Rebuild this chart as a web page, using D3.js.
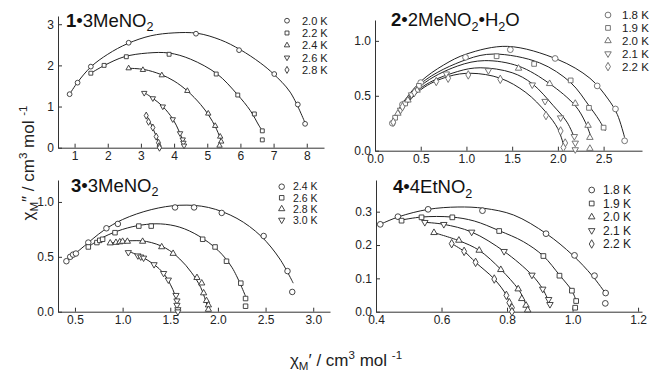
<!DOCTYPE html>
<html>
<head>
<meta charset="utf-8">
<script src="https://cdn.jsdelivr.net/npm/d3@7"></script>
<style>
	body { margin: 0; background: #fff; }
	svg { font-family: "Liberation Sans", Arial, Helvetica, sans-serif; }
</style>
</head>
<body>
<div id="chart"></div>
<script>
// ---- data ----

// panel 1 : 1·3MeNO2
const p1Temps = ['2.0 K', '2.2 K', '2.4 K', '2.6 K', '2.8 K']
const p1Points = [
	[[0.85, 1.30], [1.09, 1.58], [1.49, 1.97], [2.63, 2.55], [4.66, 2.77], [5.96, 2.37], [7.02, 1.79], [7.73, 1.05], [7.95, 0.58]],
	[[1.49, 1.81], [1.89, 2.00], [2.56, 2.21], [3.85, 2.27], [5.27, 1.79], [5.92, 1.28], [6.42, 0.82], [6.66, 0.41], [6.66, 0.19]],
	[[2.63, 1.93], [3.06, 1.89], [3.63, 1.76], [4.40, 1.38], [5.03, 0.83], [5.24, 0.53], [5.39, 0.27], [5.42, 0.15], [5.37, 0.05]],
	[[3.10, 1.33], [3.36, 1.20], [3.66, 1.00], [3.96, 0.69], [4.18, 0.35], [4.26, 0.20], [4.28, 0.12], [4.30, 0.05]],
	[[3.16, 0.78], [3.23, 0.63], [3.36, 0.49], [3.46, 0.27], [3.53, 0.12], [3.55, 0.04], [3.56, 0.00]]
]
const p1Fits = [
	[[0.85, 1.30], [1.1, 1.60], [1.5, 1.97], [2.0, 2.27], [2.6, 2.53], [3.3, 2.72], [4.0, 2.79], [4.7, 2.78], [5.4, 2.62], [6.0, 2.38], [6.6, 2.06], [7.0, 1.79], [7.5, 1.35], [7.95, 0.60]],
	[[1.49, 1.81], [1.9, 2.00], [2.5, 2.21], [3.2, 2.30], [3.85, 2.30], [4.5, 2.15], [5.3, 1.79], [5.9, 1.30], [6.3, 0.90], [6.55, 0.55], [6.65, 0.42]],
	[[2.63, 1.93], [3.1, 1.90], [3.6, 1.78], [4.0, 1.62], [4.4, 1.38], [4.8, 1.05], [5.05, 0.78], [5.25, 0.50], [5.38, 0.25], [5.42, 0.12]],
	[[3.10, 1.34], [3.36, 1.20], [3.66, 1.00], [3.96, 0.70], [4.15, 0.40], [4.25, 0.20], [4.30, 0.04]],
	[[3.16, 0.80], [3.30, 0.58], [3.45, 0.30], [3.53, 0.12], [3.56, 0.00]]
]

// panel 2 : 2·2MeNO2·H2O
const p2Temps = ['1.8 K', '1.9 K', '2.0 K', '2.1 K', '2.2 K']
const p2Points = [
	[[0.19, 0.25], [0.30, 0.42], [0.50, 0.62], [0.99, 0.85], [1.48, 0.92], [1.97, 0.84], [2.43, 0.59], [2.63, 0.38], [2.73, 0.09]],
	[[0.22, 0.30], [0.33, 0.43], [0.48, 0.59], [1.33, 0.86], [1.74, 0.79], [2.14, 0.64], [2.34, 0.39], [2.50, 0.21]],
	[[0.25, 0.34], [0.36, 0.46], [0.46, 0.55], [1.57, 0.75], [1.91, 0.61], [2.19, 0.43], [2.33, 0.23], [2.35, 0.12], [2.35, 0.02]],
	[[0.28, 0.37], [0.40, 0.51], [0.78, 0.70], [1.24, 0.73], [1.72, 0.60], [1.86, 0.45], [2.03, 0.30], [2.18, 0.13], [2.19, 0.07], [2.19, 0.01]],
	[[0.20, 0.26], [0.30, 0.40], [0.43, 0.53], [0.67, 0.63], [0.80, 0.66], [1.02, 0.69], [1.37, 0.65], [1.87, 0.32], [2.03, 0.18], [2.08, 0.07], [2.06, 0.03]]
]
const p2Fits = [
	[[0.17, 0.24], [0.3, 0.43], [0.5, 0.63], [0.75, 0.78], [1.0, 0.88], [1.45, 0.95], [2.0, 0.83], [2.35, 0.66], [2.55, 0.47], [2.65, 0.33], [2.73, 0.12]],
	[[0.17, 0.24], [0.5, 0.61], [1.0, 0.83], [1.3, 0.88], [1.8, 0.80], [2.14, 0.62], [2.34, 0.41], [2.45, 0.28], [2.52, 0.18]],
	[[0.17, 0.24], [0.5, 0.59], [0.9, 0.77], [1.2, 0.82], [1.57, 0.77], [1.91, 0.61], [2.19, 0.41], [2.3, 0.26], [2.36, 0.13]],
	[[0.17, 0.24], [0.5, 0.57], [0.9, 0.72], [1.15, 0.755], [1.5, 0.71], [1.72, 0.61], [1.95, 0.41], [2.1, 0.26], [2.18, 0.12]],
	[[0.17, 0.24], [0.5, 0.555], [0.8, 0.675], [1.05, 0.705], [1.37, 0.66], [1.65, 0.53], [1.87, 0.35], [2.0, 0.20], [2.07, 0.03]]
]

// panel 3 : 3·3MeNO2
const p3Temps = ['2.4 K', '2.6 K', '2.8 K', '3.0 K']
const p3Points = [
	[[0.41, 0.46], [0.45, 0.50], [0.48, 0.52], [0.51, 0.53], [0.64, 0.63], [0.83, 0.76], [0.95, 0.80], [1.55, 0.95], [1.75, 0.95], [2.04, 0.90], [2.48, 0.69], [2.73, 0.37], [2.78, 0.18]],
	[[0.64, 0.59], [0.73, 0.63], [0.76, 0.65], [0.79, 0.66], [0.92, 0.72], [1.17, 0.78], [1.30, 0.78], [1.84, 0.66], [1.97, 0.59], [2.09, 0.46], [2.24, 0.26], [2.29, 0.12], [2.29, 0.05]],
	[[0.87, 0.625], [0.93, 0.63], [0.97, 0.635], [1.00, 0.64], [1.05, 0.64], [1.21, 0.64], [1.41, 0.59], [1.53, 0.53], [1.78, 0.31], [1.83, 0.26], [1.85, 0.17], [1.88, 0.10], [1.90, 0.06], [1.90, 0.02]],
	[[1.06, 0.54], [1.16, 0.51], [1.19, 0.50], [1.22, 0.49], [1.33, 0.43], [1.43, 0.35], [1.48, 0.29], [1.56, 0.15], [1.57, 0.10], [1.57, 0.06], [1.58, 0.02], [1.58, 0.00]]
]
const p3Fits = [
	[[0.41, 0.46], [0.6, 0.60], [0.8, 0.74], [1.0, 0.84], [1.3, 0.93], [1.6, 0.97], [1.9, 0.95], [2.2, 0.85], [2.45, 0.69], [2.65, 0.48], [2.79, 0.26]],
	[[0.64, 0.59], [0.8, 0.68], [1.0, 0.75], [1.2, 0.79], [1.4, 0.80], [1.6, 0.77], [1.8, 0.69], [2.0, 0.56], [2.15, 0.40], [2.29, 0.14]],
	[[0.87, 0.625], [1.05, 0.645], [1.25, 0.64], [1.45, 0.58], [1.6, 0.48], [1.72, 0.36], [1.82, 0.22], [1.90, 0.02]],
	[[1.06, 0.55], [1.2, 0.50], [1.33, 0.43], [1.43, 0.35], [1.5, 0.25], [1.55, 0.15], [1.58, 0.00]]
]

// panel 4 : 4·4EtNO2
const p4Temps = ['1.8 K', '1.9 K', '2.0 K', '2.1 K', '2.2 K']
const p4Points = [
	[[0.413, 0.262], [0.467, 0.285], [0.559, 0.307], [0.725, 0.303], [0.919, 0.234], [1.006, 0.169], [1.067, 0.108], [1.101, 0.056], [1.100, 0.025]],
	[[0.478, 0.273], [0.539, 0.283], [0.633, 0.283], [0.776, 0.242], [0.911, 0.167], [0.960, 0.108], [0.998, 0.063], [1.011, 0.032], [1.008, 0.012]],
	[[0.577, 0.237], [0.653, 0.214], [0.715, 0.184], [0.781, 0.126], [0.834, 0.068], [0.845, 0.039], [0.858, 0.019], [0.863, 0.005]],
	[[0.549, 0.268], [0.607, 0.262], [0.692, 0.239], [0.791, 0.181], [0.876, 0.110], [0.909, 0.068], [0.927, 0.037], [0.931, 0.022]],
	[[0.631, 0.204], [0.669, 0.181], [0.704, 0.148], [0.761, 0.098], [0.798, 0.049], [0.807, 0.027], [0.815, 0.012], [0.815, 0.000]]
]
const p4Fits = [
	[[0.413, 0.262], [0.47, 0.285], [0.56, 0.307], [0.65, 0.314], [0.73, 0.310], [0.82, 0.290], [0.92, 0.234], [1.0, 0.170], [1.06, 0.108], [1.10, 0.056]],
	[[0.478, 0.275], [0.54, 0.284], [0.63, 0.284], [0.70, 0.272], [0.776, 0.243], [0.85, 0.210], [0.911, 0.167], [0.96, 0.110], [0.998, 0.063], [1.01, 0.035]],
	[[0.577, 0.237], [0.653, 0.213], [0.715, 0.184], [0.781, 0.127], [0.834, 0.068], [0.85, 0.040], [0.86, 0.012]],
	[[0.549, 0.268], [0.607, 0.262], [0.692, 0.239], [0.791, 0.181], [0.876, 0.110], [0.909, 0.068], [0.93, 0.025]],
	[[0.631, 0.204], [0.669, 0.181], [0.704, 0.148], [0.761, 0.098], [0.798, 0.049], [0.812, 0.010]]
]

// axis extents and tick labels
const p1XTicks = [1, 2, 3, 4, 5, 6, 7, 8], p1YTicks = [0, 1, 2, 3]
const p2XTicks = [0, 0.5, 1, 1.5, 2, 2.5], p2YTicks = [0, 0.5, 1]
const p3XTicks = [0.5, 1, 1.5, 2, 2.5, 3], p3YTicks = [0, 0.5, 1]
const p4XTicks = [0.4, 0.6, 0.8, 1.0, 1.2], p4YTicks = [0, 0.1, 0.2, 0.3]

// titles: [text, style]
const p1Title = [['1', 'b'], ['\u20223MeNO', ''], ['2', 'sub']]
const p2Title = [['2', 'b'], ['\u20222MeNO', ''], ['2', 'sub'], ['\u2022H', ''], ['2', 'sub'], ['O', '']]
const p3Title = [['3', 'b'], ['\u20223MeNO', ''], ['2', 'sub']]
const p4Title = [['4', 'b'], ['\u20224EtNO', ''], ['2', 'sub']]

const yTitle = [['\u03c7', ''], ['M', 'sub'], ['\u2033 / cm', ''], ['3', 'sup'], [' mol ', ''], ['-1', 'sup']]
const xTitle = [['\u03c7', ''], ['M', 'sub'], ['\u2032 / cm', ''], ['3', 'sup'], [' mol ', ''], ['-1', 'sup']]

// ---- layout ----
const panels = [
	{ temps: p1Temps, points: p1Points, fits: p1Fits, xTicks: p1XTicks, yTicks: p1YTicks, fmt: d3.format('d'),
	  xDomain: [0.5, 8.52], xRange: [58, 324], yDomain: [0, 3.2], yRange: [147.7, 16],
	  title: p1Title, titlePos: [66, 26.5], leg: [287, 302, 20.7, 12.3], legFont: 11, size: 18, mark: '#333' },
	{ temps: p2Temps, points: p2Points, fits: p2Fits, xTicks: p2XTicks, yTicks: p2YTicks, fmt: d3.format('.1f'),
	  xDomain: [0, 2.92], xRange: [375, 642], yDomain: [0, 1.19], yRange: [150.7, 20],
	  title: p2Title, titlePos: [391, 26], leg: [608, 622, 15, 12.9], legFont: 11.5, size: 26, mark: '#666' },
	{ temps: p3Temps, points: p3Points, fits: p3Fits, xTicks: p3XTicks, yTicks: p3YTicks, fmt: d3.format('.1f'),
	  xDomain: [0.322, 3.176], xRange: [58, 330], yDomain: [0, 1.2], yRange: [311.7, 180],
	  title: p3Title, titlePos: [71, 191.7], leg: [281.7, 293, 186.7, 11.1], legFont: 10.5, size: 24, mark: '#333' },
	{ temps: p4Temps, points: p4Points, fits: p4Fits, xTicks: p4XTicks, yTicks: p4YTicks, fmt: d3.format('.1f'),
	  xDomain: [0.4, 1.212], xRange: [376, 642], yDomain: [0, 0.395], yRange: [311.7, 180],
	  title: p4Title, titlePos: [393, 193.3], leg: [591.7, 603, 190, 13.5], legFont: 12, size: 26, mark: '#333' }
]

const shapes = [d3.symbolCircle, d3.symbolSquare, d3.symbolTriangle, d3.symbolTriangle, d3.symbolDiamond]
const turns  = [0, 0, 0, 180, 0]
const scaleBy = [1, 0.85, 0.7, 0.7, 0.8]

const $svg = d3.select('#chart').append('svg')
	.attr('width', 650)
	.attr('height', 371)

// rich text with sub / superscripts
function richText($text, parts, base) {
	let shift = 0
	parts.forEach(([t, s]) => {
		const $t = $text.append('tspan').text(t)
		let target = 0
		if (s === 'sub') target = base * 0.25
		if (s === 'sup') target = -base * 0.42
		$t.attr('dy', target - shift)
		shift = target
		if (s === 'sub' || s === 'sup') $t.attr('font-size', base * 0.68)
		if (s === 'b') $t.attr('font-weight', 'bold')
	})
}

function styleAxis($a) {
	$a.attr('font-size', 12).attr('font-family', null)
	$a.select('.domain').attr('stroke', '#333')
	$a.selectAll('.tick line').attr('stroke', '#333')
	$a.selectAll('.tick text').attr('fill', '#222')
}

panels.forEach(p => {
	const x = d3.scaleLinear().domain(p.xDomain).range(p.xRange)
	const y = d3.scaleLinear().domain(p.yDomain).range(p.yRange)
	const $g = $svg.append('g')

	$g.append('g')
		.attr('transform', `translate(0,${p.yRange[0]})`)
		.call(d3.axisBottom(x).tickValues(p.xTicks).tickFormat(p.fmt)
			.tickSizeInner(-4).tickSizeOuter(0).tickPadding(4))
		.call(styleAxis)

	$g.append('g')
		.attr('transform', `translate(${p.xRange[0]},0)`)
		.call(d3.axisLeft(y).tickValues(p.yTicks).tickFormat(p.fmt)
			.tickSizeInner(-4).tickSizeOuter(0).tickPadding(4))
		.call(styleAxis)

	const line = d3.line()
		.x(d => x(d[0]))
		.y(d => y(d[1]))
		.curve(d3.curveCatmullRom.alpha(0.5))

	// fitted curves
	$g.selectAll('.fit')
		.data(p.fits)
		.join('path')
		.attr('class', 'fit')
		.attr('d', line)
		.attr('fill', 'none')
		.attr('stroke', '#222')
		.attr('stroke-width', 1)

	// measured points
	p.points.forEach((serie, idx) => {
		$g.selectAll(`.m${idx}`)
			.data(serie)
			.join('path')
			.attr('class', `m${idx}`)
			.attr('transform', d => `translate(${x(d[0])},${y(d[1])}) rotate(${turns[idx]})`)
			.attr('d', d3.symbol(shapes[idx], p.size * scaleBy[idx]))
			.attr('fill', '#fff')
			.attr('stroke', p.mark)
			.attr('stroke-width', 0.9)
	})

	// legend
	const [sx, tx, ty, dy] = p.leg
	p.temps.forEach((label, idx) => {
		$g.append('path')
			.attr('transform', `translate(${sx},${ty + idx * dy}) rotate(${turns[idx]})`)
			.attr('d', d3.symbol(shapes[idx], p.size * scaleBy[idx]))
			.attr('fill', '#fff')
			.attr('stroke', p.mark)
			.attr('stroke-width', 0.9)
		$g.append('text')
			.attr('x', tx)
			.attr('y', ty + idx * dy)
			.attr('dy', '0.36em')
			.attr('font-size', p.legFont)
			.attr('fill', '#222')
			.text(label)
	})

	// title
	const $title = $g.append('text')
		.attr('x', p.titlePos[0])
		.attr('y', p.titlePos[1])
		.attr('font-size', 18.5)
		.attr('fill', '#111')
	richText($title, p.title, 18.5)
})

// axis titles
const $yt = $svg.append('text')
	.attr('transform', 'translate(34,163) rotate(-90)')
	.attr('text-anchor', 'middle')
	.attr('font-size', 17)
	.attr('fill', '#222')
richText($yt, yTitle, 17)

const $xt = $svg.append('text')
	.attr('x', 346)
	.attr('y', 366)
	.attr('text-anchor', 'middle')
	.attr('font-size', 17)
	.attr('fill', '#222')
richText($xt, xTitle, 17)
</script>
</body>
</html>
